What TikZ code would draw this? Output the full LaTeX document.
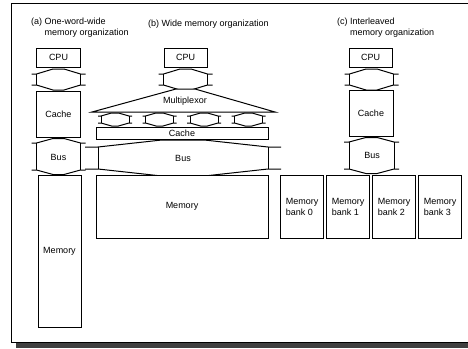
\documentclass[tikz,border=0pt]{standalone}
\usepackage{fontspec}
\setmainfont{Liberation Sans}
\usetikzlibrary{positioning}
\tikzset{
  font=\fontsize{9}{11}\selectfont,
  box/.style     ={draw, line width=1pt, fill=white, inner sep=0pt, align=center},
  bankbox/.style ={draw, line width=1pt, fill=white, inner sep=0pt, align=left, minimum width=43.5pt, minimum height=63pt},
  lnk/.style     ={draw, line width=1pt, line join=miter},
  lbl/.style     ={inner sep=0pt, align=left},
  pics/link/.style n args={4}{code={
    \draw[lnk] (-#1-#4,-#2) -- (-#1,-#2) -- (-#1*0.25,-#2-#3) -- (#1*0.25,-#2-#3) -- (#1,-#2) -- (#1+#4,-#2);
    \draw[lnk] (-#1-#4,#2) -- (-#1,#2) -- (-#1*0.25,#2+#3) -- (#1*0.25,#2+#3) -- (#1,#2) -- (#1+#4,#2);
    \draw[lnk] (-#1,-#2) -- (-#1,#2) (#1,-#2) -- (#1,#2);
  }},
}
\begin{document}
\begin{tikzpicture}[x=1pt,y=-1pt]
  \useasboundingbox (0,0) rectangle (468,348);
  % frame
  \fill[black!75] (16,343) rectangle (468,348);
  \draw[line width=1pt] (470,3) -- (11,3) -- (11,342) -- (470,342);

  % (a) one-word-wide
  \node[lbl, anchor=north west] (ttlA) at (31,18) {(a) One-word-wide\\\phantom{(a) }memory organization};
  \node[box, minimum width=44pt, minimum height=19pt] (cpuA) at (58.5,57.5) {CPU};
  \pic at (58.5,79.5) {link={22}{5.5}{5}{5}};
  \node[box, minimum width=44pt, minimum height=46pt] (cacheA) at (58.5,114) {Cache};
  \pic at (58.5,156.5) {link={22}{13.5}{4.5}{5}};
  \node[lbl] (busA) at (58.5,157) {Bus};
  \node[box, minimum width=43pt, minimum height=152pt] (memA) at (59.5,251) {Memory};

  % (b) wide
  \node[lbl, anchor=west] (ttlB) at (148,24) {(b) Wide memory organization};
  \node[box, minimum width=43pt, minimum height=19pt] (cpuB) at (185.5,57.5) {CPU};
  \pic at (185.5,79.5) {link={22}{5.5}{5}{5}};
  \draw[lnk, fill=white] (92,112) -- (176,89) -- (195,89) -- (275,112) -- cycle;
  \node[lbl] (muxB) at (185,101) {Multiplexor};
  \foreach \x in {115,159.5,204,248.5}
    \pic at (\x,119.5) {link={14}{3.5}{3}{3}};
  \node[box, minimum width=172pt, minimum height=12pt] (cacheB) at (182,133) {Cache};
  \pic at (183,158) {link={85}{11}{7}{13}};
  \node[lbl] (busB) at (183,158) {Bus};
  \node[box, minimum width=172pt, minimum height=63pt] (memB) at (182,206.5) {Memory};

  % (c) interleaved
  \node[lbl, anchor=north west] (ttlC) at (337,18) {(c) Interleaved\\\phantom{(c) }memory organization};
  \node[box, minimum width=43pt, minimum height=19pt] (cpuC) at (370.5,57.5) {CPU};
  \pic at (371.5,79.5) {link={22}{5.5}{5}{5}};
  \node[box, minimum width=44pt, minimum height=46pt] (cacheC) at (371,113.5) {Cache};
  \pic at (371.5,155.5) {link={22.5}{13.5}{4.5}{5}};
  \node[lbl] (busC) at (372,155) {Bus};
  \foreach \i in {0,...,3}
    \node[bankbox] (bank\i) at (302+46*\i,206.5) {Memory\\bank \i};
\end{tikzpicture}
\end{document}
